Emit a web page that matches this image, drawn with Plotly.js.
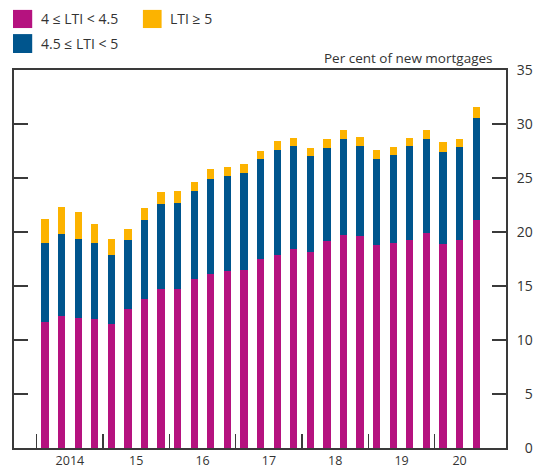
<!DOCTYPE html>
<html>
<head>
<meta charset="utf-8">
<script src="https://cdn.plot.ly/plotly-3.0.1.min.js"></script>
<style>html,body{margin:0;padding:0;background:#fff;}#chart{width:533px;height:468px;}</style>
</head>
<body>
<div id="chart"></div>
<script>
// Quarterly, 2014 Q1 to 2020 Q3
const quarters = ['2014 Q1','2014 Q2','2014 Q3','2014 Q4','2015 Q1','2015 Q2','2015 Q3','2015 Q4',
  '2016 Q1','2016 Q2','2016 Q3','2016 Q4','2017 Q1','2017 Q2','2017 Q3','2017 Q4',
  '2018 Q1','2018 Q2','2018 Q3','2018 Q4','2019 Q1','2019 Q2','2019 Q3','2019 Q4',
  '2020 Q1','2020 Q2','2020 Q3'];
const lti4to45 = [11.7,12.25,12.05,11.95,11.5,12.85,13.8,14.75,14.75,15.65,16.1,16.4,16.5,17.5,17.85,18.45,
  18.15,19.2,19.75,19.65,18.8,19.0,19.25,19.95,18.9,19.3,21.1];
const lti45to5 = [7.25,7.55,7.3,7.0,6.35,6.45,7.35,7.85,7.95,8.15,8.85,8.8,8.95,9.25,9.75,9.5,
  8.85,8.55,8.85,8.35,8.0,8.15,8.7,8.65,8.55,8.55,9.5];
const lti5plus = [2.25,2.5,2.5,1.75,1.5,1.0,1.05,1.1,1.1,0.8,0.9,0.85,0.85,0.75,0.85,0.75,
  0.8,0.85,0.85,0.8,0.8,0.75,0.8,0.85,0.9,0.75,0.95];
const yearLabels = ['2014','15','16','17','18','19','20'];
const seriesNames = ['4 ≤ LTI < 4.5','4.5 ≤ LTI < 5','LTI ≥ 5'];
const yTickVals = [0,5,10,15,20,25,30,35];
const unitLabel = 'Per cent of new mortgages';

const colors = ['#b5127f','#00558d','#fcb300'];
const idx = quarters.map((q,i)=>i);

// year label positions: centre of each year's quarters present
const years = quarters.map(q=>q.slice(0,4));
const uniqYears = [...new Set(years)];
const yearCentres = uniqYears.map(y=>{
  const ii = idx.filter(i=>years[i]===y);
  return (ii[0]+ii[ii.length-1])/2;
});
const yearBounds = uniqYears.slice(1).map(y=>idx.find(i=>years[i]===y)-0.5);
yearBounds.unshift(-0.5);

const data = [lti4to45, lti45to5, lti5plus].map((v,k)=>({
  type:'bar', x: idx, y: v, name: seriesNames[k],
  marker:{color: colors[k], line:{width:0}}, showlegend:false, hoverinfo:'skip'
}));

const fontFam = '"Open Sans", "Noto Sans", sans-serif';
const txt = '#333333';

const figSpace = '\u2007';
const layout = {
  width:533, height:468,
  margin:{l:14, r:27, t:70, b:20},
  barmode:'stack', bargap:0.56,
  paper_bgcolor:'#fff', plot_bgcolor:'#fff',
  font:{family: fontFam, size:13, color: txt},
  xaxis:{
    range:[-1.87, 27.8], showgrid:false, zeroline:false,
    showline:true, linecolor:'#3a3a3a', linewidth:2, mirror:true,
    tickmode:'array', tickvals: yearCentres, ticktext: yearLabels, ticks:'',
    tickfont:{size:12.5, color: txt},
    minor:{tickmode:'array', tickvals: yearBounds, ticks:'inside', ticklen:14, tickwidth:1.5, tickcolor:'#3a3a3a', showgrid:false}
  },
  yaxis:{
    range:[0,35], side:'right', showgrid:false, zeroline:false,
    showline:true, linecolor:'#3a3a3a', linewidth:2, mirror:'ticks',
    tickmode:'array', tickvals: yTickVals,
    ticktext: yTickVals.map(v=> (v<10 ? figSpace : '') + v),
    ticks:'inside', ticklen:14, tickwidth:1.5, tickcolor:'#3a3a3a',
    ticklabelstandoff: 6,
    tickfont:{size:14, color: txt}
  },
  shapes:[
    {type:'rect', xref:'paper', yref:'paper', x0:-0.002, x1:0.037, y0:1.111, y1:1.159, fillcolor:colors[0], line:{width:0}},
    {type:'rect', xref:'paper', yref:'paper', x0:0.262, x1:0.3, y0:1.111, y1:1.159, fillcolor:colors[2], line:{width:0}},
    {type:'rect', xref:'paper', yref:'paper', x0:-0.002, x1:0.037, y0:1.045, y1:1.095, fillcolor:colors[1], line:{width:0}}
  ],
  annotations:[
    {xref:'paper', yref:'paper', x:0.051, y:1.135, xanchor:'left', yanchor:'middle', text: seriesNames[0], showarrow:false, font:{size:14, color:txt}},
    {xref:'paper', yref:'paper', x:0.313, y:1.135, xanchor:'left', yanchor:'middle', text: seriesNames[2], showarrow:false, font:{size:14, color:txt}},
    {xref:'paper', yref:'paper', x:0.051, y:1.071, xanchor:'left', yanchor:'middle', text: seriesNames[1], showarrow:false, font:{size:14, color:txt}},
    {xref:'paper', yref:'paper', x:0.978, y:1.0, xanchor:'right', yanchor:'bottom', text: unitLabel, showarrow:false, font:{size:13.5, color:txt}, yshift:1}
  ]
};

Plotly.newPlot('chart', data, layout, {displayModeBar:false, staticPlot:true});
</script>
</body>
</html>
